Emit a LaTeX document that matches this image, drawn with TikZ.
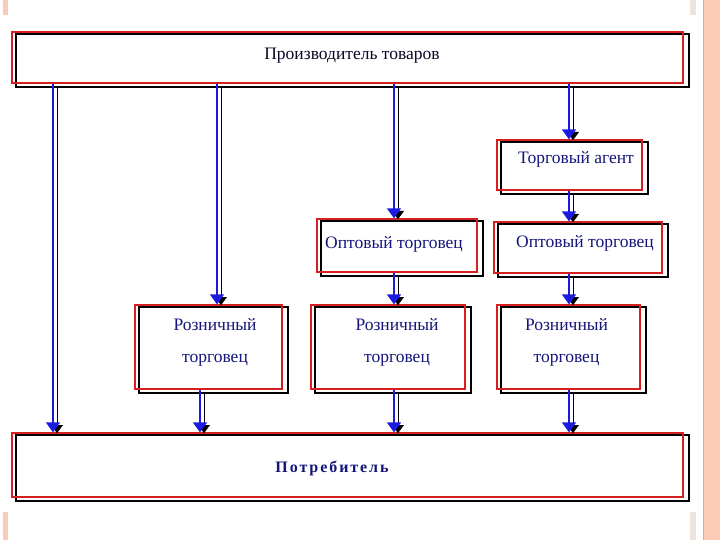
\documentclass[tikz,border=0pt]{standalone}
\usepackage{fontspec}
\setmainfont{Liberation Serif}
\newfontfamily\spacedfont[LetterSpace=12]{Liberation Serif}
\usetikzlibrary{arrows.meta, backgrounds}

\definecolor{inkblue}{HTML}{14147A}
\definecolor{rimred}{HTML}{D42020}
\definecolor{flowblue}{HTML}{1A1AE0}
\definecolor{band}{HTML}{FCCBB7}
\definecolor{bandline}{HTML}{F2A27E}

\begin{document}
\begin{tikzpicture}[x=1pt, y=-1pt,
    box/.style={draw=rimred, line width=1.3pt, inner sep=0pt},
    frame/.style={draw=black, line width=2.2pt},
    txt/.style={text=inkblue, font={\fontsize{17.5}{32}\selectfont}, align=center, inner sep=0pt},
    flow/.style={line width=1.7pt, draw=flowblue, -{Triangle[width=14pt, length=10pt]},
        preaction={draw=black, -{Triangle[width=14pt, length=10pt]}, transform canvas={shift={(4pt,-2pt)}}}}]
    \useasboundingbox (0,0) rectangle (720,540);

    % Page decoration
    \fill[band] (703,0) rectangle (720,540);
    \draw[bandline, line width=1pt] (703,0) -- (703,540);
    \fill[band] (3,0) rectangle (8,15);
    \fill[band] (3,512) rectangle (8,540);
    \fill[band!70!gray!40] (690,0) rectangle (696,15);
    \fill[band!70!gray!40] (690,512) rectangle (696,540);

    % Boxes
    \node[box, minimum width=671pt, minimum height=51pt] (prod) at (347.5,57.5) {};
    \node[box, minimum width=145pt, minimum height=50pt] (agent) at (569.5,165) {};
    \node[box, minimum width=160pt, minimum height=53pt] (optM) at (397,245.5) {};
    \node[box, minimum width=168pt, minimum height=51pt] (optR) at (578,247.5) {};
    \node[box, minimum width=147pt, minimum height=84pt] (rozL) at (208.5,347) {};
    \node[box, minimum width=154pt, minimum height=84pt] (rozM) at (388,347) {};
    \node[box, minimum width=143pt, minimum height=84pt] (rozR) at (568.5,347) {};
    \node[box, minimum width=671pt, minimum height=64pt] (cons) at (347.5,465) {};

    % Black frames behind the red ones
    \begin{scope}[on background layer]
        \foreach \n in {prod, agent, optM, optR, rozL, rozM, rozR, cons} {
            \draw[frame] ([shift={(5,3)}]\n.north west) rectangle ([shift={(5,3)}]\n.south east);
        }
    \end{scope}

    % Texts
    \node[txt, text=black!70!inkblue] (prodT) at ([shift={(4.5,-2)}]prod.center) {Производитель товаров};
    \node[txt] (agentT) at ([shift={(6.5,-5.5)}]agent.center) {Торговый агент};
    \node[txt] (optMT) at ([shift={(-3,-1)}]optM.center) {Оптовый торговец};
    \node[txt] (optRT) at ([shift={(7,-4)}]optR.center) {Оптовый торговец};
    \node[txt] (rozLT) at ([shift={(6.5,-5)}]rozL.center) {Розничный\\торговец};
    \node[txt] (rozMT) at ([shift={(9,-5)}]rozM.center) {Розничный\\торговец};
    \node[txt] (rozRT) at ([shift={(-2,-5)}]rozR.center) {Розничный\\торговец};
    \node[txt, font={\spacedfont\bfseries\fontsize{16}{20}\selectfont}] (consT) at ([shift={(-15.5,3)}]cons.center) {Потребитель};

    % Columns of the arrows
    \coordinate (colA) at (53,0);
    \coordinate (colB) at (217,0);
    \coordinate (colC) at (394,0);
    \coordinate (colD) at (569,0);
    \coordinate (colE) at (200,0);

    % Arrows
    \draw[flow] (prod.south -| colA) -- (cons.north -| colA);
    \draw[flow] (prod.south -| colB) -- (rozL.north -| colB);
    \draw[flow] (prod.south -| colC) -- (optM.north -| colC);
    \draw[flow] (prod.south -| colD) -- (agent.north -| colD);
    \draw[flow] (agent.south -| colD) -- (optR.north -| colD);
    \draw[flow] (optM.south -| colC) -- (rozM.north -| colC);
    \draw[flow] (optR.south -| colD) -- (rozR.north -| colD);
    \draw[flow] (rozL.south -| colE) -- (cons.north -| colE);
    \draw[flow] (rozM.south -| colC) -- (cons.north -| colC);
    \draw[flow] (rozR.south -| colD) -- (cons.north -| colD);
\end{tikzpicture}
\end{document}
